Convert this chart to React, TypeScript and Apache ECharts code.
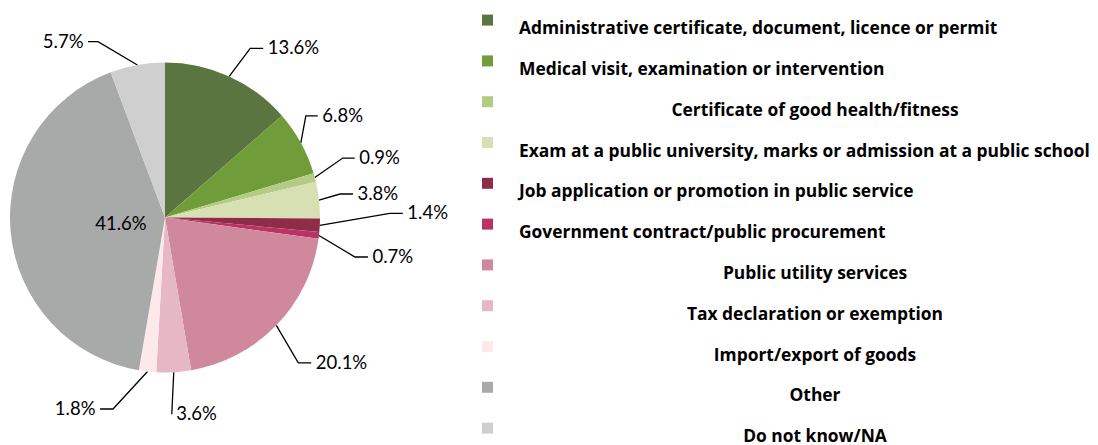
import React, { useEffect, useRef } from "react";
import * as echarts from "echarts";

// ---- data ----
const categories: string[] = [
  "Administrative certificate, document, licence or permit",
  "Medical visit, examination or intervention",
  "Certificate of good health/fitness",
  "Exam at a public university, marks or admission at a public school",
  "Job application or promotion in public service",
  "Government contract/public procurement",
  "Public utility services",
  "Tax declaration or exemption",
  "Import/export of goods",
  "Other",
  "Do not know/NA",
];
const shares: number[] = [13.6, 6.8, 0.9, 3.8, 1.4, 0.7, 20.1, 3.6, 1.8, 41.6, 5.7];

// ---- styles ----
const colors: string[] = [
  "#5b7540",
  "#719c3a",
  "#b4cb85",
  "#d7e0b2",
  "#8f2c48",
  "#b93463",
  "#d0899c",
  "#e6b7c5",
  "#fde9e9",
  "#a8aaa9",
  "#cfcfcf",
];
// legend entries whose text is centred in the legend column
const centredLegend: number[] = [2, 6, 7, 8, 9, 10];
// leader line geometry per slice: [elbow dx from slice edge, elbow dy, horizontal run]
const leader: (number[] | null)[] = [
  [21, -28, 13],
  [5, -27, 12],
  [28, -19.5, 12],
  [21, -6, 13],
  [70, -12, 13],
  [36, 21.5, 13],
  [22, 37.5, 13],
  [-2, 42, 0],
  [-34.5, 37.5, 13],
  null,
  [-39.4, -23.3, 10],
];
const insideNudge = [36, -2];
const insideIndex = 9;

const LABEL_FONT = "Lato, 'Open Sans', 'Noto Sans', sans-serif";
const LEGEND_FONT = "'Open Sans', 'Noto Sans', sans-serif";

export default function App() {
  const ref = useRef<HTMLDivElement>(null);

  useEffect(() => {
    document.body.style.margin = "0";
    const chart = echarts.init(ref.current!, null, { renderer: "svg" });

    const data = categories.map((name, i) => {
      const item: any = { name, value: shares[i], itemStyle: { color: colors[i] } };
      if (i === insideIndex) {
        item.label = { position: "inside" };
        item.labelLine = { show: false };
      }
      return item;
    });

    const tokenBase = {
      fontFamily: LEGEND_FONT,
      fontWeight: "bold",
      fontSize: 17.4,
      color: "#000",
      lineHeight: 20,
      padding: [14, 0, 0, 21],
    };

    chart.setOption({
      animation: false,
      backgroundColor: "#ffffff",
      legend: {
        orient: "vertical",
        left: 482,
        top: 4.6,
        padding: 0,
        itemWidth: 11,
        itemHeight: 11,
        itemGap: 9.8,
        icon: "rect",
        selectedMode: false,
        data: categories,
        formatter: (name: string) => {
          const idx = categories.indexOf(name);
          return centredLegend.includes(idx) ? `{c|${name}}` : `{l|${name}}`;
        },
        textStyle: {
          fontFamily: LEGEND_FONT,
          fontWeight: "bold",
          fontSize: 17.4,
          color: "#000",
          rich: {
            l: { ...tokenBase },
            c: { ...tokenBase, width: 592, align: "center" },
          },
        },
      },
      series: [
        {
          type: "pie",
          center: [165, 217.5],
          radius: 155,
          startAngle: 90,
          clockwise: true,
          avoidLabelOverlap: false,
          emphasis: { disabled: true },
          itemStyle: { borderWidth: 0 },
          label: {
            show: true,
            position: "outside",
            formatter: (p: any) => `${Number(p.value).toFixed(1)}%`,
            fontFamily: LABEL_FONT,
            fontSize: 18.5,
            color: "#000",
          },
          labelLine: {
            show: true,
            length: 10,
            length2: 10,
            lineStyle: { color: "#000", width: 1.3 },
          },
          labelLayout: (p: any) => {
            const i = p.dataIndex;
            const g = leader[i];
            if (!g) {
              const r = p.labelRect;
              return {
                x: r.x + r.width / 2 + insideNudge[0],
                y: r.y + r.height / 2 + insideNudge[1],
                align: "center",
                verticalAlign: "middle",
              };
            }
            const pts = p.labelLinePoints;
            if (!pts || pts.length < 3) return {};
            const s = pts[0];
            const side = pts[2][0] >= pts[1][0] ? 1 : -1;
            const elbow = [s[0] + g[0], s[1] + g[1]];
            const end = [elbow[0] + side * g[2], elbow[1]];
            return {
              x: end[0] + side * 4.5,
              y: end[1] - 1,
              align: side > 0 ? "left" : "right",
              verticalAlign: "middle",
              labelLinePoints: [[s[0], s[1]], elbow, end],
            };
          },
          data,
        },
      ],
    });

    return () => chart.dispose();
  }, []);

  return (
    <div
      ref={ref}
      style={{ position: "fixed", left: 0, top: 0, width: 1098, height: 445 }}
    />
  );
}
